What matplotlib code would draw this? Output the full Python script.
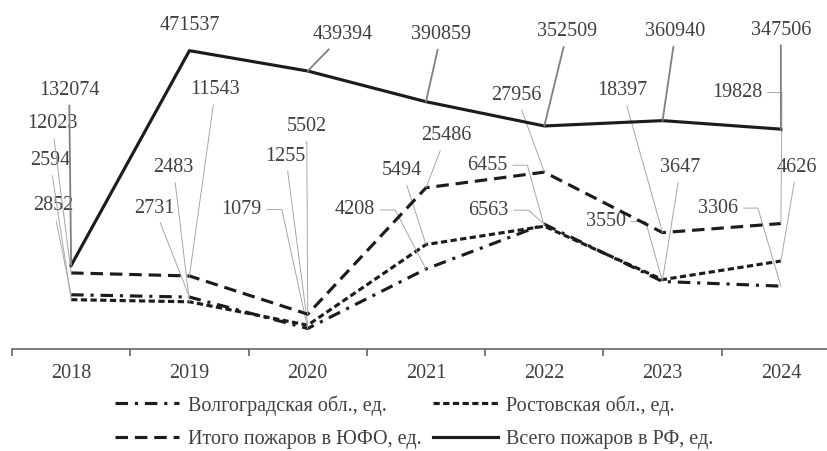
import matplotlib.pyplot as plt

years = ['2018', '2019', '2020', '2021', '2022', '2023', '2024']
volgograd = [2852, 2731, 1079, 4208, 6563, 3550, 3306]
rostov = [2594, 2483, 1255, 5494, 6455, 3647, 4626]
yufo = [12023, 11543, 5502, 25486, 27956, 18397, 19828]
russia = [132074, 471537, 439394, 390859, 352509, 360940, 347506]

names = ['Волгоградская обл., ед.', 'Ростовская обл., ед.',
         'Итого пожаров в ЮФО, ед.', 'Всего пожаров в РФ, ед.']

# where each value label sits, in pixels from its point, and the leader kind
volgograd_lbl = [(-18, 89, 'line'), (-35, 89, 'line'), (-66, 119, 'elbow'),
                 (-71, 59, 'elbow'), (-56, 14, 'elbow'), (-57, 60, 'elbow'),
                 (-63, 78, 'elbow')]
rostov_lbl = [(-21, 139, 'line'), (-16, 134, 'line'), (-22, 169, 'line'),
              (-24, 74, 'line'), (-57, 61, 'elbow'), (18, 112, 'line'),
              (16, 94, 'line')]
yufo_lbl = [(-19, 149, 'line'), (26, 186, 'line'), (-1, 188, 'line'),
            (20, 52, 'line'), (-28, 77, 'line'), (-40, 142, 'line'),
            (-44, 131, 'elbow')]
russia_lbl = [(-2, 175, 'line'), (0, 25, 'none'), (35, 36, 'line'),
              (15, 67, 'line'), (23, 94, 'line'), (13, 89, 'line'),
              (0, 99, 'line')]

plt.rcParams['font.family'] = 'Liberation Serif'
plt.rcParams['font.size'] = 14.5
TXT = '#404040'
INK = '#1c1c1c'

fig = plt.figure(figsize=(8.28, 4.51), dpi=100)
ax = fig.add_axes([12 / 828, 102 / 451, 828 / 828, 329 / 451])
ax_yufo = ax.twinx()
ax_rf = ax.twinx()

x = list(range(len(years)))
l_v, = ax.plot(x, volgograd, color=INK, lw=2.25, dashes=(4, 2.2, 1, 2.2))
l_r, = ax.plot(x, rostov, color=INK, lw=2.25, dashes=(2, 1.1))
l_i, = ax_yufo.plot(x, yufo, color=INK, lw=2.25, dashes=(4, 2.2))
l_rf, = ax_rf.plot(x, russia, color=INK, lw=2.25)

ax.set_ylim(0, 17300)
ax_yufo.set_ylim(0, 52000)
ax_rf.set_ylim(0, 520000)

for a in (ax, ax_yufo, ax_rf):
    a.set_xlim(-0.5, 6.5)
    a.set_yticks([])
    for side in ('top', 'left', 'right', 'bottom'):
        a.spines[side].set_visible(False)

ax.spines['bottom'].set_visible(True)
ax.spines['bottom'].set_color('#595959')
ax.spines['bottom'].set_linewidth(1.1)
ax.set_xticks([i - 0.5 for i in range(len(years) + 1)])
ax.set_xticklabels([])
ax.tick_params(axis='x', which='major', length=5, width=1.1,
               color='#595959', direction='out')
ax.set_xticks(x, minor=True)
ax.set_xticklabels(years, minor=True)
ax.tick_params(axis='x', which='minor', length=0, pad=11, labelcolor=TXT)


def put_labels(a, values, layout, lcolor, lw):
    for xi, v, (dx, dy, kind) in zip(x, values, layout):
        props = None
        if kind == 'line':
            props = dict(arrowstyle='-', color=lcolor, lw=lw, shrinkB=0)
        elif kind == 'elbow':
            props = dict(arrowstyle='-', color=lcolor, lw=lw, shrinkB=0,
                         relpos=(1, 0.5),
                         connectionstyle='arc,angleA=0,armA=20,rad=0')
        a.annotate(str(v), (xi, v), xytext=(dx, dy),
                   textcoords='offset pixels', ha='center', va='center',
                   color=TXT, arrowprops=props)


put_labels(ax, volgograd, volgograd_lbl, '#a6a6a6', 0.7)
put_labels(ax, rostov, rostov_lbl, '#a6a6a6', 0.7)
put_labels(ax_yufo, yufo, yufo_lbl, '#a6a6a6', 0.7)
put_labels(ax_rf, russia, russia_lbl, '#808080', 1.3)

fig.legend([l_v, l_i, l_r, l_rf], [names[0], names[2], names[1], names[3]],
           ncol=2, loc='upper left', bbox_to_anchor=(115 / 828, 1 - 395 / 451),
           frameon=False, borderpad=0, borderaxespad=0, handlelength=3.2,
           handletextpad=0.4, columnspacing=0.6, labelspacing=0.72,
           labelcolor=TXT)

fig.savefig('out.png', dpi=100)
